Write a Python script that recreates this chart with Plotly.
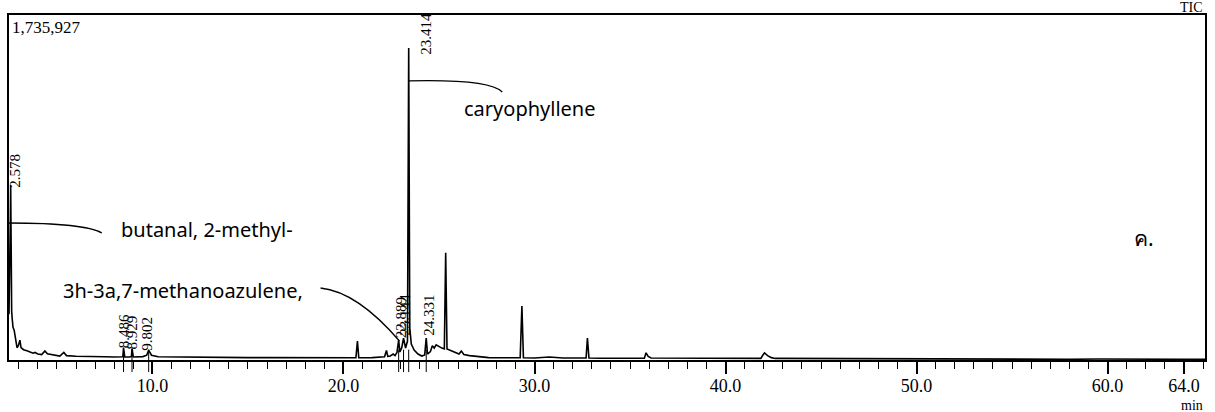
import plotly.graph_objects as go

# Total ion chromatogram: retention time (min) and detector counts
rt = [2.49, 2.53, 2.56, 2.578, 2.60, 2.63, 2.66, 2.70, 2.76, 2.82, 2.91, 2.98, 3.06, 3.12,
      3.25, 3.43, 3.60, 3.75, 3.85, 4.00, 4.20, 4.37, 4.50, 4.75, 5.00, 5.15, 5.36, 5.50,
      6.00, 6.50, 7.00, 7.50, 8.00, 8.35, 8.45, 8.486, 8.55, 8.80, 8.90, 8.929, 9.00, 9.50,
      9.70, 9.802, 9.95, 10.3, 11.0, 12.0, 13.0, 14.0, 15.0, 16.0, 17.0, 18.0, 19.0, 20.0,
      20.65, 20.73, 20.80, 21.5, 22.0, 22.15, 22.25, 22.32, 22.45, 22.60, 22.70, 22.80,
      22.889, 22.95, 23.05, 23.144, 23.25, 23.35, 23.414, 23.47, 23.55, 23.70, 23.90, 24.10,
      24.25, 24.331, 24.40, 24.55, 24.65, 24.75, 24.85, 25.00, 25.15, 25.28, 25.35, 25.42,
      25.55, 25.75, 25.90, 26.05, 26.17, 26.30, 26.60, 26.90, 27.20, 27.60, 28.50, 29.25,
      29.34, 29.42, 30.00, 30.77, 31.50, 32.70, 32.77, 32.85, 33.50, 35.75, 35.84, 35.95,
      36.10, 38.00, 39.60, 40.50, 41.85, 41.95, 42.04, 42.20, 42.40, 42.60, 45.0, 48.0,
      49.5, 50.5, 51.5, 52.5, 53.5, 55.0, 56.5, 58.0, 59.5, 61.0, 62.5, 64.0, 65.1]

intensity = [230000, 420000, 700000, 880000, 420000, 245000, 205000, 165000, 150000, 110000,
             62000, 72000, 100000, 62000, 52000, 46000, 40000, 34000, 38000, 30000, 27000,
             45000, 31000, 27000, 22000, 20000, 38000, 22000, 19000, 17000, 17000, 16000,
             15000, 14000, 16000, 62000, 15000, 15000, 17000, 58000, 15000, 17000, 24000,
             50000, 24000, 16000, 15000, 14000, 13000, 13000, 12000, 12000, 11000, 11000,
             11000, 11000, 11000, 95000, 11000, 12000, 14000, 16000, 48000, 18000, 20000,
             30000, 22000, 38000, 100000, 40000, 62000, 110000, 60000, 95000, 1570000,
             160000, 80000, 50000, 30000, 20000, 25000, 110000, 30000, 42000, 72000, 60000,
             76000, 66000, 60000, 56000, 540000, 55000, 50000, 40000, 34000, 30000, 45000,
             28000, 22000, 18000, 14000, 12000, 11000, 11000, 272000, 11000, 10000, 15000,
             10000, 10000, 110000, 10000, 9000, 9000, 36000, 18000, 10000, 9000, 10000,
             8000, 8000, 24000, 36000, 22000, 12000, 8000, 7000, 6000, 6000, 4000, 6000,
             4000, 5500, 3500, 5000, 3500, 5000, 3500, 4500, 3500, 4000]

assert len(rt) == len(intensity)

Y_MAX = 1735927

# Peaks labelled with their retention times
peak_rt = [2.578, 8.486, 8.929, 9.802, 22.889, 23.144, 23.414, 24.331]
# label offsets (px) so the tall peak's label stays inside the frame
label_dx = [4, 0, 0, -2, 2, 2, 17, 2]
label_dy = [-5, -3, -3, -3, 0, 0, -9, 0]

# Compound names with leader curves (start on peak, bend towards the text)
compounds = ["caryophyllene", "butanal, 2-methyl-", "3h-3a,7-methanoazulene,"]
compound_pos = [(29.72, 1268000), (12.84, 659000), (11.58, 352000)]
leader_curves = [
    ((23.40, 1404000), (27.63, 1414000), (28.31, 1348600)),
    ((2.49, 689400), (6.46, 689400), (7.35, 639000)),
    ((18.80, 362300), (20.73, 342200), (22.93, 95600)),
]

x_ticks = [10.0, 20.0, 30.0, 40.0, 50.0, 60.0, 64.0]

fig = go.Figure()
fig.add_trace(go.Scatter(
    x=rt, y=intensity, mode="lines",
    line=dict(color="black", width=1.6),
    hoverinfo="skip", showlegend=False,
))

serif = "Liberation Serif, Times New Roman, serif"
sans = "Noto Sans, Tahoma, sans-serif"

annotations = []
for p, dx, dy in zip(peak_rt, label_dx, label_dy):
    annotations.append(dict(
        x=p, y=intensity[rt.index(p)], xref="x", yref="y",
        text=f"{p:.3f}", showarrow=False, textangle=-90,
        xanchor="center", yanchor="bottom", xshift=dx, yshift=dy,
        font=dict(family=serif, size=15, color="black"),
    ))

for name, (cx, cy) in zip(compounds, compound_pos):
    annotations.append(dict(
        x=cx, y=cy, xref="x", yref="y", text=name, showarrow=False,
        xanchor="center", yanchor="middle",
        font=dict(family=sans, size=20, color="black"),
    ))

annotations += [
    dict(x=61.92, y=614000, xref="x", yref="y", text="ค.", showarrow=False,
         xanchor="center", yanchor="middle",
         font=dict(family=sans, size=21, color="black")),
    dict(x=0, y=1, xref="paper", yref="paper", text="1,735,927", showarrow=False,
         xanchor="left", yanchor="top", xshift=1, yshift=-1,
         font=dict(family=serif, size=17, color="black")),
    dict(x=1, y=1, xref="paper", yref="paper", text="TIC", showarrow=False,
         xanchor="right", yanchor="bottom", yshift=-2,
         font=dict(family=serif, size=14, color="black")),
    dict(x=1, y=0, xref="paper", yref="paper", text="min", showarrow=False,
         xanchor="right", yanchor="top", yshift=-36,
         font=dict(family=serif, size=14, color="black")),
]

shapes = []
for (p0, c, p1) in leader_curves:
    shapes.append(dict(
        type="path", xref="x", yref="y",
        path=f"M {p0[0]},{p0[1]} Q {c[0]},{c[1]} {p1[0]},{p1[1]}",
        line=dict(color="black", width=1.3),
    ))

# drop markers under the labelled peaks
for p in peak_rt[1:]:
    shapes.append(dict(
        type="line", xref="x", yref="paper", x0=p, x1=p, y0=-0.035, y1=0.03,
        line=dict(color="black", width=1),
    ))

fig.update_layout(
    width=1215, height=412,
    margin=dict(l=9, r=8, t=15, b=52),
    paper_bgcolor="white", plot_bgcolor="white",
    annotations=annotations, shapes=shapes,
    xaxis=dict(
        range=[2.49, 65.1], tickmode="array", tickvals=x_ticks,
        ticktext=[f"{t:.1f}" for t in x_ticks],
        ticks="outside", ticklen=12, tickwidth=1.5, tickcolor="black",
        ticklabelstandoff=-4,
        showline=True, linewidth=2, linecolor="black", mirror=True,
        showgrid=False, zeroline=False,
        tickfont=dict(family=serif, size=18, color="black"),
        minor=dict(tickmode="linear", tick0=0, dtick=1, ticks="outside",
                   ticklen=7, tickwidth=1, tickcolor="black", showgrid=False),
    ),
    yaxis=dict(
        range=[0, Y_MAX], showticklabels=False, ticks="",
        showline=True, linewidth=2, linecolor="black", mirror=True,
        showgrid=False, zeroline=False,
    ),
)

fig.write_html("out.html")
